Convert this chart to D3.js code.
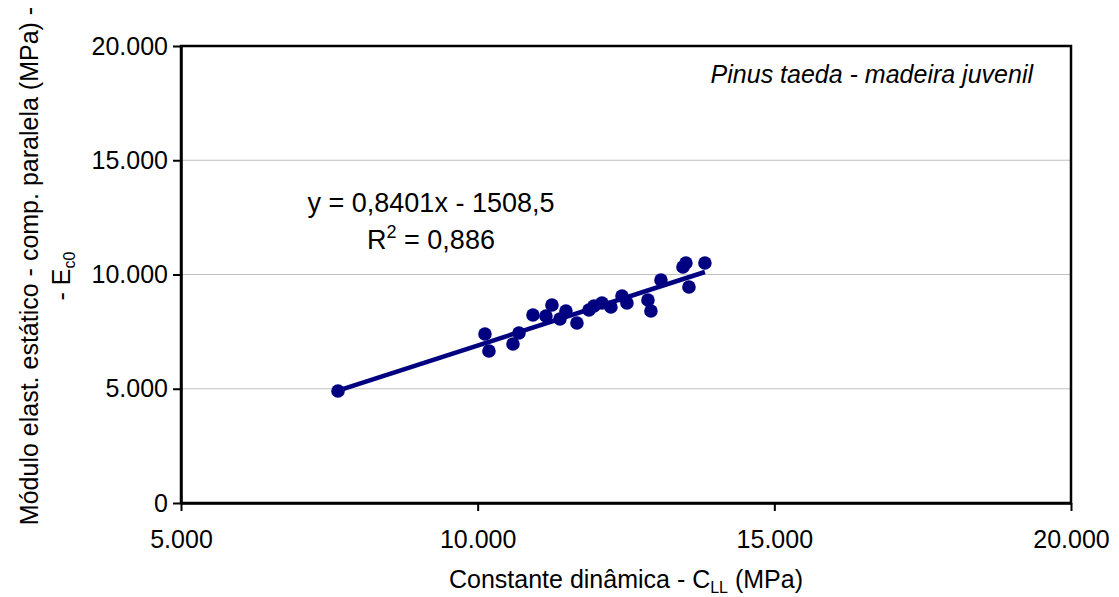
<!DOCTYPE html>
<html>
<head>
<meta charset="utf-8">
<script src="https://cdn.jsdelivr.net/npm/d3@7"></script>
<style>
  body { margin: 0; background: #fff; }
  text { font-family: "Liberation Sans", Arial, sans-serif; }
</style>
</head>
<body>
<svg id="chart" width="1119" height="597"></svg>
<script>
// dynamic constant C_LL (MPa)
var cLL = [7646, 10123, 10190, 10595, 10696, 10932, 11151, 11252, 11387, 11488, 11673,
           11876, 11960, 12095, 12246, 12432, 12516, 12870, 12920, 13089, 13460, 13510, 13561, 13830];
// static modulus Ec0 (MPa)
var ec0 = [4902, 7396, 6652, 6958, 7440, 8227, 8183, 8665, 8052, 8402, 7877,
           8446, 8620, 8752, 8577, 9058, 8752, 8883, 8402, 9758, 10327, 10502, 9452, 10502];
var xTicks = [5000, 10000, 15000, 20000];
var yTicks = [0, 5000, 10000, 15000, 20000];
var slope = 0.8401, intercept = -1508.5;

var svg = d3.select("#chart"),
    margin = {top: 46, right: 48, bottom: 94, left: 181},
    width = +svg.attr("width") - margin.left - margin.right,
    height = +svg.attr("height") - margin.top - margin.bottom,
    g = svg.append("g").attr("transform", "translate(" + margin.left + "," + margin.top + ")");

var x = d3.scaleLinear().domain([5000, 20000]).range([0, width]);
var y = d3.scaleLinear().domain([0, 20000]).range([height, 0]);

var fmt = function(d) { return d === 0 ? "0" : d3.format(",")(d).replace(/,/g, "."); };

// gridlines
g.append("g")
  .selectAll("line")
  .data(yTicks.slice(1, -1))
  .enter().append("line")
    .attr("x1", 0).attr("x2", width)
    .attr("y1", function(d) { return y(d); })
    .attr("y2", function(d) { return y(d); })
    .attr("stroke", "#c0c0c0")
    .attr("stroke-width", 1);

// plot border
g.append("rect")
  .attr("width", width).attr("height", height)
  .attr("fill", "none").attr("stroke", "#000").attr("stroke-width", 2.5);

// axes
var xAxis = g.append("g")
  .attr("transform", "translate(0," + height + ")")
  .call(d3.axisBottom(x).tickValues(xTicks).tickFormat(fmt).tickSize(8).tickSizeOuter(0));
var yAxis = g.append("g")
  .call(d3.axisLeft(y).tickValues(yTicks).tickFormat(fmt).tickSize(8).tickSizeOuter(0));

[xAxis, yAxis].forEach(function(a) {
  a.select(".domain").attr("stroke-width", 2.5);
  a.selectAll(".tick line").attr("stroke-width", 2);
  a.selectAll("text").attr("font-size", 25).attr("fill", "#000")
    .attr("font-family", "'Liberation Sans', Arial, sans-serif");
});
xAxis.selectAll("text").attr("dy", "1.35em");
yAxis.selectAll("text").attr("x", -13);

// trend line
var xs = d3.extent(cLL);
g.append("line")
  .attr("x1", x(xs[0])).attr("y1", y(slope * xs[0] + intercept))
  .attr("x2", x(xs[1])).attr("y2", y(slope * xs[1] + intercept))
  .attr("stroke", "#000080").attr("stroke-width", 4.5);

// points
g.append("g")
  .selectAll("circle")
  .data(cLL)
  .enter().append("circle")
    .attr("cx", function(d) { return x(d); })
    .attr("cy", function(d, i) { return y(ec0[i]); })
    .attr("r", 6.8)
    .attr("fill", "#000080");

// equation
var eq = g.append("g").attr("font-size", 27).attr("text-anchor", "middle");
eq.append("text").attr("x", 250).attr("y", 166).text("y = 0,8401x - 1508,5");
var r2 = eq.append("text").attr("x", 250).attr("y", 203);
r2.append("tspan").text("R");
r2.append("tspan").attr("font-size", 18).attr("dy", -11).text("2");
r2.append("tspan").attr("dy", 11).text(" = 0,886");

// series label
g.append("text")
  .attr("x", width - 38).attr("y", 37)
  .attr("text-anchor", "end")
  .attr("font-size", 25)
  .attr("font-style", "italic")
  .text("Pinus taeda - madeira juvenil");

// x title
var xt = svg.append("text")
  .attr("x", 626).attr("y", 588)
  .attr("text-anchor", "middle").attr("font-size", 25);
xt.append("tspan").text("Constante dinâmica - C");
xt.append("tspan").attr("font-size", 16).attr("dy", 5).text("LL");
xt.append("tspan").attr("dy", -5).text(" (MPa)");

// y title
var yt = svg.append("g").attr("transform", "translate(38,266) rotate(-90)");
yt.append("text").attr("text-anchor", "middle").attr("font-size", 25)
  .text("Módulo elast. estático - comp. paralela (MPa) -");
var yt2 = yt.append("text").attr("y", 32).attr("x", -10).attr("text-anchor", "middle").attr("font-size", 25);
yt2.append("tspan").text("- E");
yt2.append("tspan").attr("font-size", 16).attr("dy", 5).text("c0");
</script>
</body>
</html>
